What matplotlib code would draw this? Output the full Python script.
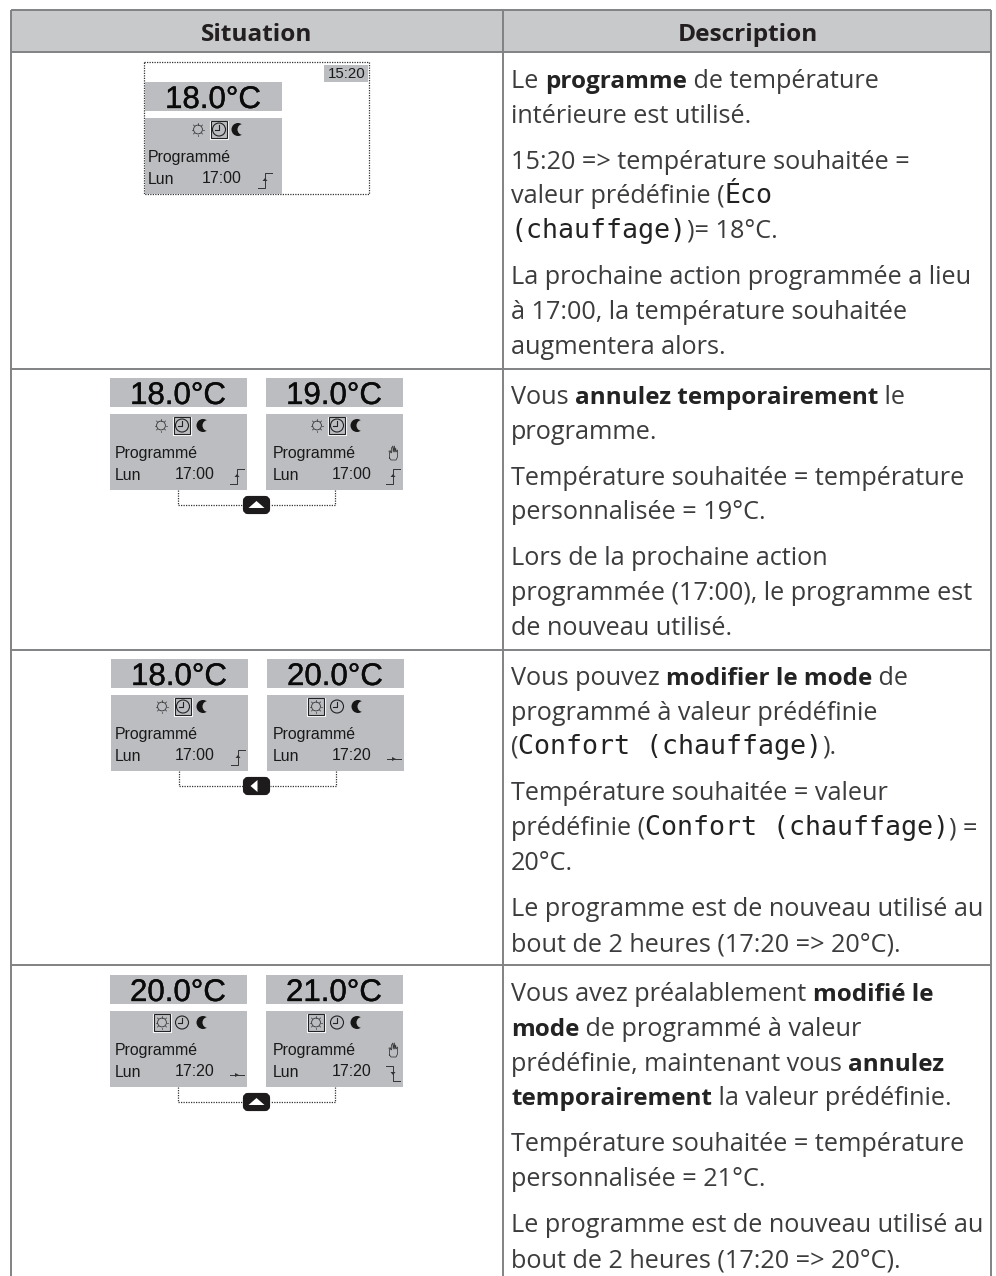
import matplotlib
matplotlib.use("Agg")
import matplotlib.pyplot as plt
from matplotlib.patches import Rectangle, Circle, FancyBboxPatch, Polygon
import matplotlib.patheffects as pe
import numpy as np

W, H = 996, 1276
HEADERS = ["Situation", "Description"]
# text runs: n=normal, b=bold, m=monospace
ROW1 = [
    [("Le ", "n"), ("programme", "b"), (" de température", "n")],
    [("intérieure est utilisé.", "n")],
    [("15:20 => température souhaitée =", "n")],
    [("valeur prédéfinie (", "n"), ("Éco", "m")],
    [("(chauffage)", "m"), (")= 18°C.", "n")],
    [("La prochaine action programmée a lieu", "n")],
    [("à 17:00, la température souhaitée", "n")],
    [("augmentera alors.", "n")],
]
ROW1_Y = [88, 123, 169, 203, 238, 284, 319, 354]
ROW2 = [
    [("Vous ", "n"), ("annulez temporairement", "b"), (" le", "n")],
    [("programme.", "n")],
    [("Température souhaitée = température", "n")],
    [("personnalisée = 19°C.", "n")],
    [("Lors de la prochaine action", "n")],
    [("programmée (17:00), le programme est", "n")],
    [("de nouveau utilisé.", "n")],
]
ROW2_Y = [404, 439, 485, 519, 565, 600, 635]
ROW3 = [
    [("Vous pouvez ", "n"), ("modifier le mode", "b"), (" de", "n")],
    [("programmé à valeur prédéfinie", "n")],
    [("(", "n"), ("Confort (chauffage)", "m"), (").", "n")],
    [("Température souhaitée = valeur", "n")],
    [("prédéfinie (", "n"), ("Confort (chauffage)", "m"), (") =", "n")],
    [("20°C.", "n")],
    [("Le programme est de nouveau utilisé au", "n")],
    [("bout de 2 heures (17:20 => 20°C).", "n")],
]
ROW3_Y = [685, 720, 754, 800, 835, 870, 916, 951]
ROW4 = [
    [("Vous avez préalablement ", "n"), ("modifié le", "b")],
    [("mode", "b"), (" de programmé à valeur", "n")],
    [("prédéfinie, maintenant vous ", "n"), ("annulez", "b")],
    [("temporairement", "b"), (" la valeur prédéfinie.", "n")],
    [("Température souhaitée = température", "n")],
    [("personnalisée = 21°C.", "n")],
    [("Le programme est de nouveau utilisé au", "n")],
    [("bout de 2 heures (17:20 => 20°C).", "n")],
]
ROW4_Y = [1001, 1036, 1071, 1105, 1151, 1186, 1232, 1267]

TEMPS = ["18.0°C", "18.0°C", "19.0°C", "18.0°C", "20.0°C", "20.0°C", "21.0°C"]
TIMES = ["17:00", "17:00", "17:00", "17:00", "17:20", "17:20", "17:20"]
SELECTED = ["clock", "clock", "clock", "clock", "sun", "sun", "sun"]
TRENDS = ["up", "up", "up", "up", "flat", "flat", "down"]
HANDS = [False, False, True, False, False, False, True]
PANEL_X = [145, 110, 266, 111, 267, 110, 266]
PANEL_Y = [82, 378, 378, 659, 659, 975, 975]
# internal horizontal offsets of each panel: text, time, trend, sun, clock, moon
TEXT_DX = [3, 5, 7, 4, 6, 5, 7]
TIME_DX = [56.5, 65, 66, 64, 65, 65, 66]
TREND_DX = [113, 120, 120, 120, 120, 120, 120]
SUN_DX = [53, 51, 51, 51, 49, 52, 50]
CLOCK_DX = [74, 72, 71, 72, 70, 72, 71]
MOON_DX = [93, 93, 91, 92, 91, 93, 91]
CLOCK_LABEL = "15:20"
MODE_LABEL = "Programmé"
DAY_LABEL = "Lun"
BUTTONS = ["up", "left", "up"]
BUTTON_Y = [496, 777, 1093]
BUTTON_X = [243, 243, 243]
CONN_X = [(178, 335), (179, 336), (178, 335)]
CONN_TOP = [490, 771, 1087]
HLINES = [10, 52, 368.5, 650, 965]
VLINES = [11, 502.5, 991]

C_TEXT = "#3c3c3e"
C_BORDER = "#808284"
C_HEAD = "#c8c9cb"
C_LCD = "#bcbdc0"
C_INK = "#161616"
BODY = "Open Sans"
LCD = "Liberation Sans"
SZ = 18.17

fig = plt.figure(figsize=(W / 100, H / 100), dpi=100)
ax = fig.add_axes([0, 0, 1, 1])
ax.set_xlim(0, W)
ax.set_ylim(H, 0)
ax.axis("off")
rend = fig.canvas.get_renderer()


def style(kind):
    if kind == "b":
        return dict(family=BODY, weight="bold", size=17.45, color="#232323")
    if kind == "m":
        return dict(family="DejaVu Sans Mono", size=19.2, color="#222222")
    return dict(family=BODY, size=SZ, color=C_TEXT)


def adv(s, kw):
    a = ax.text(0, 0, s + "|", **kw)
    b = ax.text(0, 0, "|", **kw)
    w = a.get_window_extent(rend).width - b.get_window_extent(rend).width
    a.remove()
    b.remove()
    return w


def draw_runs(lines, ys, x0=511):
    for runs, y in zip(lines, ys):
        x = x0
        for s, k in runs:
            kw = style(k)
            ax.text(x, y, s, va="baseline", ha="left", **kw)
            x += adv(s, kw)


def sun(cx, cy):
    ax.add_patch(Circle((cx, cy), 4.4, fill=False, ec="#333", lw=0.6))
    for a in np.arange(0, 360, 45):
        r = np.radians(a)
        ax.plot([cx + 5 * np.cos(r), cx + 6.4 * np.cos(r)],
                [cy + 5 * np.sin(r), cy + 6.4 * np.sin(r)], color="#333", lw=0.5)


def clock(cx, cy):
    ax.add_patch(Circle((cx, cy), 6.5, fill=False, ec="#222", lw=0.8))
    ax.plot([cx, cx, cx - 4], [cy - 4.5, cy, cy], color="#222", lw=0.8)


def moon(cx, cy):
    ax.add_patch(Circle((cx, cy), 6.5, fc=C_INK, ec="none"))
    ax.add_patch(Circle((cx + 5, cy), 5.5, fc=C_LCD, ec="none"))


def select(cx, cy):
    ax.add_patch(Rectangle((cx - 9, cy - 9), 18, 18, fill=False, ec="white", lw=0.8))
    ax.add_patch(Rectangle((cx - 8.2, cy - 8.2), 16.4, 16.4, fill=False, ec="#222222", lw=0.8))


def trend(x, y, kind):
    if kind == "up":
        ax.plot([x, x + 7, x + 7, x + 14], [y + 15, y + 15, y, y], color="#333", lw=0.7)
        ax.add_patch(Polygon([[x + 4.5, y + 8], [x + 9.5, y + 8], [x + 7, y + 5]], fc="#333", ec="none"))
    elif kind == "down":
        ax.plot([x, x + 7, x + 7, x + 14], [y, y, y + 15, y + 15], color="#333", lw=0.7)
        ax.add_patch(Polygon([[x + 4.5, y + 6], [x + 9.5, y + 6], [x + 7, y + 9]], fc="#333", ec="none"))
    else:
        ax.plot([x, x + 14], [y + 9, y + 9], color="#333", lw=0.7)
        ax.add_patch(Polygon([[x + 5, y + 7], [x + 5, y + 11], [x + 9, y + 9]], fc="#333", ec="none"))


def hand(cx, cy):
    xs = [-4, -4, -4.5, -2.8, -2.4, -2, -0.6, -0.3, 0.9, 1.2, 2.2, 2.5, 4, 4, 2.5, -2.5, -4]
    ys = [5, 0, -2, -2, 0, -5, -7, -1, -7, -1, -5, -1, -3, 4, 7, 7, 5]
    ax.plot([cx + a for a in xs], [cy + b for b in ys], color="#333", lw=0.55)


def panel(i):
    x, y = PANEL_X[i], PANEL_Y[i]
    ax.add_patch(Rectangle((x, y), 137, 29, fc=C_LCD, ec="none"))
    ax.add_patch(Rectangle((x, y + 36), 137, 75.5, fc=C_LCD, ec="none"))
    t = ax.text(x + 68, y + 26, TEMPS[i], family=LCD, size=22.5, ha="center", va="baseline", color="#0a0a0a")
    t.set_path_effects([pe.withStroke(linewidth=0.25, foreground="#0a0a0a")])
    cy = y + 47.5
    sx, cxx, mx = x + SUN_DX[i], x + CLOCK_DX[i], x + MOON_DX[i]
    sun(sx, cy)
    clock(cxx, cy)
    moon(mx, cy)
    select(cxx if SELECTED[i] == "clock" else sx, cy)
    tx = x + TEXT_DX[i]
    ax.text(tx, y + 80, MODE_LABEL, family=LCD, size=11.4, va="baseline", color="#1a1a1a")
    ax.text(tx, y + 102, DAY_LABEL, family=LCD, size=11.4, va="baseline", color="#1a1a1a")
    ax.text(x + TIME_DX[i], y + 101, TIMES[i], family=LCD, size=11.4, va="baseline", color="#1a1a1a")
    trend(x + TREND_DX[i], y + 91, TRENDS[i])
    if HANDS[i]:
        hand(x + 127.5, y + 75)


def button(x, y, kind):
    ax.add_patch(FancyBboxPatch((x + 2, y + 2), 23, 14, boxstyle="round,pad=0,rounding_size=3",
                                mutation_aspect=1, fc="#1d1b1c", ec="#1d1b1c", lw=3))
    cx, cy = x + 13.5, y + 9
    if kind == "up":
        pts = [[cx - 8, cy + 3], [cx + 8, cy + 3], [cx, cy - 4]]
    else:
        pts = [[cx + 1, cy - 6], [cx + 1, cy + 6], [cx - 6, cy]]
    ax.add_patch(Polygon(pts, fc="white", ec="none"))


# header
ax.add_patch(Rectangle((VLINES[0], HLINES[0]), VLINES[2] - VLINES[0], HLINES[1] - HLINES[0], fc=C_HEAD, ec="none"))
for yy in HLINES:
    ax.plot([VLINES[0], VLINES[2]], [yy, yy], color=C_BORDER, lw=1.4, solid_capstyle="butt")
for xx in VLINES:
    ax.plot([xx, xx], [HLINES[0], H], color=C_BORDER, lw=1.4, solid_capstyle="butt")
head_kw = dict(family=BODY, weight="bold", size=17.55, color="#231f20", ha="center", va="baseline")
ax.text(256.5, 41, HEADERS[0], **head_kw)
ax.text(748, 41, HEADERS[1], **head_kw)

# body text
draw_runs(ROW1, ROW1_Y)
draw_runs(ROW2, ROW2_Y)
draw_runs(ROW3, ROW3_Y)
draw_runs(ROW4, ROW4_Y)

# first panel frame and time
dot = dict(color="#333333", lw=0.9, linestyle=(0, (1, 1)))
ax.add_patch(Rectangle((144, 62), 225, 132, fill=False, ec="#333333", lw=0.9, linestyle=(0, (1, 1))))
ax.add_patch(Rectangle((324, 65), 44, 17, fc=C_LCD, ec="none"))
ax.text(347, 78, CLOCK_LABEL, family=LCD, size=10.8, ha="center", va="baseline", color="#1a1a1a")

for i in range(len(TEMPS)):
    panel(i)

for (xa, xb), top, bx, by, k in zip(CONN_X, CONN_TOP, BUTTON_X, BUTTON_Y, BUTTONS):
    low = by + 9
    ax.plot([xa, xa, bx], [top, low, low], **dot)
    ax.plot([xb, xb, bx + 27], [top, low, low], **dot)
    button(bx, by, k)

fig.savefig("out.png", dpi=100, facecolor="white")
